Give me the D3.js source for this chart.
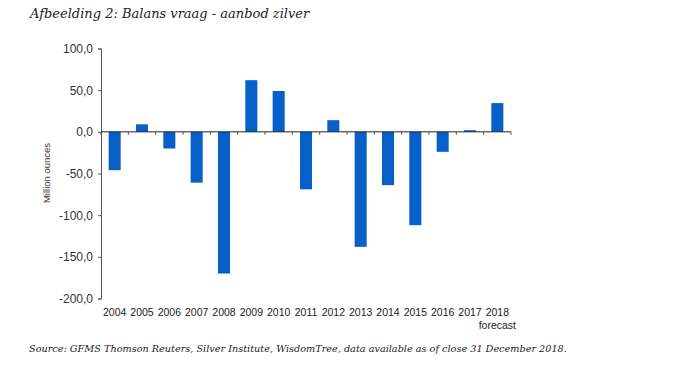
<!DOCTYPE html>
<html><head><meta charset="utf-8">
<script src="https://cdn.jsdelivr.net/npm/d3@7"></script>
<style>body{margin:0;background:#fff}svg{display:block}</style>
</head><body>
<svg id="c" width="675" height="366"></svg>
<script>
const years = ["2004","2005","2006","2007","2008","2009","2010","2011","2012","2013","2014","2015","2016","2017","2018"];
const balance = [-46, 9, -20, -61, -170, 62, 49, -69, 14, -138, -64, -112, -24, 2, 34.5];
const yTicks = [100, 50, 0, -50, -100, -150, -200];

const svg = d3.select("#c");
const x = d3.scaleBand().domain(years).range([101, 511]).paddingInner(0.56).paddingOuter(0.28);
const y = d3.scaleLinear().domain([-200, 100]).range([298.5, 48.5]);
const fmt = d => d3.format(".1f")(d).replace(".", ",").replace("−","-");

// title
svg.append("text").attr("x", 30).attr("y", 18)
  .attr("font-family", "DejaVu Serif").attr("font-style", "italic").attr("font-size", 13)
  .attr("fill", "#222").text("Afbeelding 2: Balans vraag - aanbod zilver");

// y axis
const ya = svg.append("g").attr("transform", "translate(101,0)")
  .call(d3.axisLeft(y).tickValues(yTicks).tickSize(3).tickFormat(fmt));
ya.select(".domain").attr("stroke", "#555");
ya.selectAll(".tick line").attr("stroke", "#555");
ya.selectAll("text").attr("font-family", "Liberation Sans, Arial").attr("font-size", 12).attr("fill", "#333").attr("x", -8);

svg.append("text").attr("transform", "translate(50,173) rotate(-90)")
  .attr("text-anchor", "middle").attr("font-family", "Liberation Sans, Arial")
  .attr("font-size", 9.5).attr("fill", "#333").text("Million ounces");

// bars
svg.append("g").selectAll("rect").data(years).join("rect")
  .attr("x", d => x(d)).attr("width", x.bandwidth())
  .attr("y", (d, i) => y(Math.max(0, balance[i])))
  .attr("height", (d, i) => Math.abs(y(balance[i]) - y(0)))
  .attr("fill", "#0660C8");

// zero axis line with boundary ticks
const z = y(0);
svg.append("line").attr("x1", 101).attr("x2", 511).attr("y1", z).attr("y2", z).attr("stroke", "#222").attr("stroke-width", 1);
const bounds = d3.range(years.length + 1).map(i => 101 + i * (410 / years.length));
svg.append("g").selectAll("line").data(bounds).join("line")
  .attr("x1", d => d).attr("x2", d => d).attr("y1", z).attr("y2", z + 3)
  .attr("stroke", "#555");

// x labels
svg.append("g").selectAll("text").data(years).join("text")
  .attr("x", d => x(d) + x.bandwidth() / 2).attr("y", 316)
  .attr("text-anchor", "middle").attr("font-family", "Liberation Sans, Arial")
  .attr("font-size", 10.5).attr("fill", "#222").text(d => d);
svg.append("text").attr("x", x("2018") + x.bandwidth() / 2).attr("y", 329)
  .attr("text-anchor", "middle").attr("font-family", "Liberation Sans, Arial")
  .attr("font-size", 10.5).attr("fill", "#222").text("forecast");

// source
svg.append("text").attr("x", 29).attr("y", 352)
  .attr("font-family", "DejaVu Serif").attr("font-style", "italic").attr("font-size", 9.7)
  .attr("fill", "#222").text("Source: GFMS Thomson Reuters, Silver Institute, WisdomTree, data available as of close 31 December 2018.");
</script>
</body></html>
